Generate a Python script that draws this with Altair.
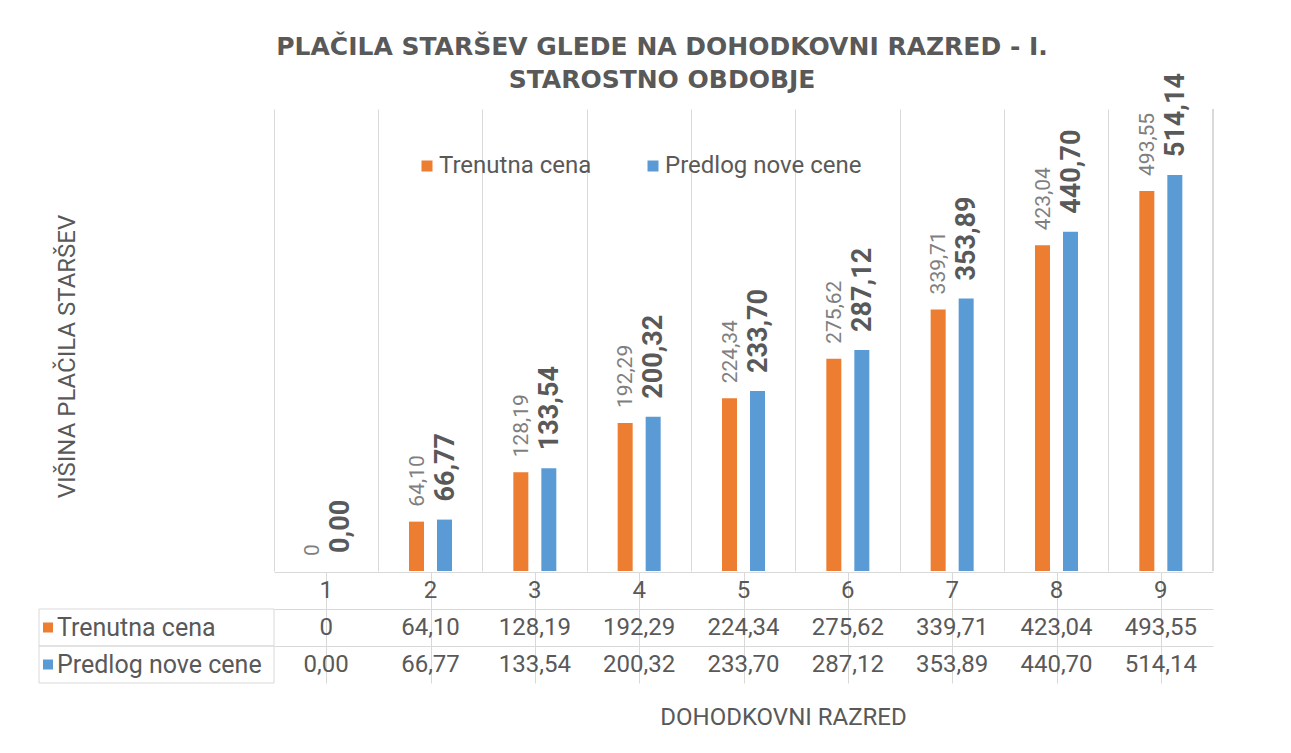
import altair as alt
import pandas as pd

categories = ["1", "2", "3", "4", "5", "6", "7", "8", "9"]
series = ["Trenutna cena", "Predlog nove cene"]
colors = ["#ED7D31", "#5B9BD5"]
trenutna = [0, 64.10, 128.19, 192.29, 224.34, 275.62, 339.71, 423.04, 493.55]
predlog = [0.00, 66.77, 133.54, 200.32, 233.70, 287.12, 353.89, 440.70, 514.14]
trenutna_lbl = ["0", "64,10", "128,19", "192,29", "224,34", "275,62", "339,71", "423,04", "493,55"]
predlog_lbl = ["0,00", "66,77", "133,54", "200,32", "233,70", "287,12", "353,89", "440,70", "514,14"]
row_keys = ["cat", "t", "p"]

FONT = "Roboto"
GRAY = "#595959"
GRID = "#D9D9D9"
W, H = 939, 462
H2 = 111

bars_rows = []
for c, t, tl, p, pl in zip(categories, trenutna, trenutna_lbl, predlog, predlog_lbl):
    bars_rows.append(dict(cat=c, series=series[0], value=t, label=tl))
    bars_rows.append(dict(cat=c, series=series[1], value=p, label=pl))
df = pd.DataFrame(bars_rows)

table_rows = []
for c, tl, pl in zip(categories, trenutna_lbl, predlog_lbl):
    table_rows.append(dict(cat=c, row="cat", text=c))
    table_rows.append(dict(cat=c, row="t", text=tl))
    table_rows.append(dict(cat=c, row="p", text=pl))
tdf = pd.DataFrame(table_rows)
ldf = pd.DataFrame({"row": ["t", "p"], "name": series, "col": colors})

x_top = alt.X("cat:N", sort=categories,
              scale=alt.Scale(paddingInner=0, paddingOuter=0),
              axis=alt.Axis(labels=False, ticks=False, domain=False, grid=True,
                            gridColor=GRID, bandPosition=0, title=None))
y_top = alt.Y("value:Q", scale=alt.Scale(domain=[0, 600], nice=False),
              axis=alt.Axis(labels=False, ticks=False, domain=False, grid=False,
                            title="VIŠINA PLAČILA STARŠEV", titleFont=FONT,
                            titleFontSize=24, titleFontWeight="normal",
                            titleColor=GRAY, titleX=-195, titleY=247))
color = alt.Color("series:N", sort=series,
                  scale=alt.Scale(domain=series, range=colors),
                  legend=alt.Legend(title=None, orient="none", legendX=141, legendY=45,
                                    direction="horizontal", symbolType="square",
                                    symbolSize=121, symbolStrokeWidth=0,
                                    labelFontSize=24, labelFont=FONT, labelColor=GRAY,
                                    labelLimit=300, columnPadding=49, labelOffset=0))

base = alt.Chart(df)
t_data = base.transform_filter(alt.datum.series == series[0])
p_data = base.transform_filter(alt.datum.series == series[1])
bars_t = t_data.mark_bar(width=15, xOffset=-14).encode(x=x_top, y=y_top, color=color)
bars_p = p_data.mark_bar(width=15, xOffset=14).encode(x=x_top, y=y_top, color=color)
lbl_t = t_data.mark_text(
    angle=270, align="left", baseline="middle", dx=15, xOffset=-13,
    font=FONT, fontSize=21, color="#7F7F7F"
).encode(x=x_top, y=y_top, text="label:N")
lbl_p = p_data.mark_text(
    angle=270, align="left", baseline="middle", dx=18, xOffset=15,
    font=FONT, fontSize=27, fontWeight="bold", color=GRAY
).encode(x=x_top, y=y_top, text="label:N")
edge = alt.Chart(df).mark_rule(color=GRID).encode(
    x=alt.value(W), y=alt.value(0), y2=alt.value(H))

top = alt.layer(bars_t, bars_p, lbl_t, lbl_p, edge).properties(width=W, height=H)

x_tab = alt.X("cat:N", sort=categories,
              scale=alt.Scale(paddingInner=0, paddingOuter=0),
              axis=alt.Axis(labels=False, ticks=False, domain=False, grid=True,
                            gridColor=GRID, bandPosition=0,
                            title="DOHODKOVNI RAZRED", titleFont=FONT, titleFontSize=24,
                            titleFontWeight="normal", titleColor=GRAY,
                            titlePadding=22, titleX=509))
y_tab = alt.Y("row:N", sort=row_keys,
              scale=alt.Scale(domain=row_keys, paddingInner=0, paddingOuter=0),
              axis=alt.Axis(labels=False, ticks=False, domain=False, grid=True,
                            gridColor=GRID, bandPosition=0, title=None))

cells = alt.Chart(tdf).mark_text(font=FONT, fontSize=24, color=GRAY).encode(
    x=x_tab, y=y_tab, text="text:N")
lcells = alt.Chart(ldf).mark_rect(fillOpacity=0, stroke=GRID, strokeWidth=1).encode(
    x=alt.value(-235), x2=alt.value(0), y=y_tab)
lsq = alt.Chart(ldf).mark_square(size=100, opacity=1).encode(
    x=alt.value(-226), y=y_tab, color=alt.Color("col:N", scale=None))
ltxt = alt.Chart(ldf).mark_text(align="left", font=FONT, fontSize=25, color=GRAY).encode(
    x=alt.value(-217), y=y_tab, text="name:N")

table = alt.layer(lcells, cells, lsq, ltxt).properties(
    width=W, height=H2, view=alt.ViewBackground(stroke=GRID))

chart = alt.vconcat(top, table, spacing=0).properties(
    title=alt.TitleParams(
        ["PLAČILA STARŠEV GLEDE NA DOHODKOVNI RAZRED - I.", "STAROSTNO OBDOBJE"],
        font="DejaVu Sans", fontSize=25, fontWeight="bold", color=GRAY,
        lineHeight=33, anchor="middle", dx=36, offset=-20),
    padding={"left": 30, "top": 27, "right": 5, "bottom": 5},
    background="white",
).configure_view(strokeWidth=0).resolve_scale(x="independent")

chart.save("out.html", embed_options={"renderer": "svg", "actions": False})
